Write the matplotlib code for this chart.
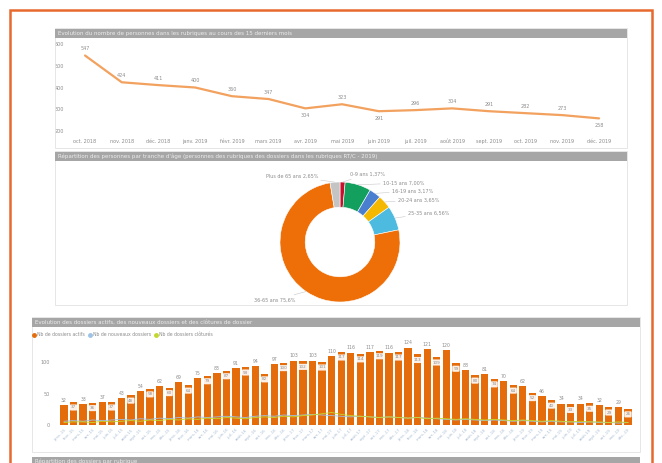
import matplotlib
matplotlib.use("Agg")
import matplotlib.pyplot as plt
from matplotlib.patches import Rectangle
from matplotlib.lines import Line2D
import numpy as np

W, H = 662, 463

# ---------------- data ----------------
line_labels = ["oct. 2018", "nov. 2018", "déc. 2018", "janv. 2019", "févr. 2019",
               "mars 2019", "avr. 2019", "mai 2019", "juin 2019", "juil. 2019",
               "août 2019", "sept. 2019", "oct. 2019", "nov. 2019", "déc. 2019"]
line_values = [547, 424, 411, 400, 360, 347, 304, 323, 291, 296, 304, 291, 282, 273, 258]
line_ticks = [200, 300, 400, 500, 600]

age_labels = ["0-9 ans", "10-15 ans", "16-19 ans", "20-24 ans", "25-35 ans",
              "36-65 ans", "Plus de 65 ans"]
age_values = [1.37, 7.00, 3.17, 3.65, 6.56, 75.60, 2.65]
age_colors = ["#C8102E", "#13A05E", "#4A7FD0", "#F5B800", "#4DBBE0", "#EE6F08", "#C4C4C4"]

mois = ["janv.", "févr.", "mars", "avr.", "mai", "juin", "juil.", "août",
        "sept.", "oct.", "nov.", "déc."]
annees = ["15", "16", "17", "18", "19"]
bar_labels = [f"{m}-{a}" for a in annees for m in mois]
actifs = [32, 37, 33, 36, 37, 37, 43, 48, 54, 58, 62, 60, 69, 64, 75, 79, 83, 87, 91, 93,
          94, 82, 97, 100, 103, 102, 103, 101, 110, 117, 116, 114, 117, 119, 116, 117, 124, 113,
          121, 109, 120, 99, 88, 80, 81, 74, 70, 64, 62, 52, 46, 40, 34, 33, 34, 35, 32, 29,
          29, 26]
nouveaux = [6, 7, 6, 8, 7, 8, 9, 8, 10, 9, 11, 10, 12, 11, 13, 12, 13, 14, 13, 12,
            14, 15, 14, 16, 15, 16, 17, 16, 15, 14, 13, 14, 13, 12, 13, 12, 11, 12, 11, 10,
            9, 8, 9, 8, 7, 8, 7, 6, 7, 6, 5, 6, 5, 5, 4, 5, 4, 4, 3, 4]
clotures = [4, 5, 5, 4, 6, 5, 6, 7, 6, 8, 7, 9, 8, 10, 9, 11, 10, 12, 11, 10,
            12, 13, 12, 14, 13, 15, 16, 18, 20, 17, 15, 14, 13, 12, 13, 12, 11, 12, 10, 11,
            10, 9, 10, 9, 8, 9, 8, 7, 8, 7, 6, 7, 6, 5, 6, 5, 5, 4, 5, 4]
bar_ticks = [0, 50, 100]

# ---------------- helpers ----------------
fig = plt.figure(figsize=(W / 100, H / 100), dpi=100)
fig.patch.set_facecolor("white")


def ax_px(x0, y0, x1, y1):
    return fig.add_axes([x0 / W, 1 - y1 / H, (x1 - x0) / W, (y1 - y0) / H])


def rect_px(x0, y0, x1, y1, **kw):
    fig.add_artist(Rectangle((x0 / W, 1 - y1 / H), (x1 - x0) / W, (y1 - y0) / H,
                             transform=fig.transFigure, **kw))


def text_px(x, y, s, **kw):
    fig.text(x / W, 1 - y / H, s, **kw)


GREY_TXT = "#8C8C8C"
BAR_GREY = "#A6A6A6"

# orange outer frame
rect_px(10, 10, 652, 480, fill=False, edgecolor="#E8692E", lw=1.8)

# ---------------- panel 1 : line ----------------
rect_px(55, 28, 627, 148, fill=False, edgecolor="#E2E2E2", lw=0.6)
rect_px(55, 29, 627, 38, facecolor=BAR_GREY, edgecolor="none")
text_px(58, 33.6, "Evolution du nombre de personnes dans les rubriques au cours des 15 derniers mois",
        color="#EDEDED", fontsize=4, va="center", ha="left")

ax1 = ax_px(70, 44, 620, 131)
x = np.arange(len(line_values))
ax1.plot(x, line_values, color="#F2A15E", lw=1.6, solid_capstyle="round")
ax1.set_ylim(200, 600)
ax1.set_xlim(-0.41, 14.57)
ax1.set_yticks(line_ticks)
ax1.set_yticklabels([str(t) for t in line_ticks])
ax1.set_xticks(x)
ax1.set_xticklabels(line_labels)
ax1.tick_params(length=0, labelsize=3.5, labelcolor=GREY_TXT)
ax1.tick_params(axis="x", pad=6)
ax1.tick_params(axis="y", pad=4)
for s in ax1.spines.values():
    s.set_visible(False)
below = {6, 8, 14}
for i, v in enumerate(line_values):
    dy = -5 if i in below else 5
    ax1.annotate(str(v), (i, v), textcoords="offset points", xytext=(0, dy),
                 ha="center", va="center", fontsize=3.5, color=GREY_TXT)

# ---------------- panel 2 : donut ----------------
rect_px(55, 151, 627, 305, fill=False, edgecolor="#E2E2E2", lw=0.6)
rect_px(55, 152, 627, 161, facecolor=BAR_GREY, edgecolor="none")
text_px(58, 156.6, "Répartition des personnes par tranche d'âge (personnes des rubriques des dossiers "
        "dans les rubriques RT/C - 2019)", color="#EDEDED", fontsize=4, va="center", ha="left")

ax2 = ax_px(280, 182, 400, 302)
wedges, _ = ax2.pie(age_values, colors=age_colors, startangle=90, counterclock=False,
                    radius=1.0, wedgeprops=dict(width=0.42, edgecolor="white", linewidth=0.4))
ax2.set_aspect("equal")
ax2.set_xlim(-1, 1)
ax2.set_ylim(-1, 1)

label_pos = {0: (350, 174, "left"), 1: (383, 183, "left"), 2: (392, 191, "left"),
             3: (398, 200, "left"), 4: (408, 213, "left"), 5: (295, 300, "right"),
             6: (318, 176, "right")}
for i, w in enumerate(wedges):
    ang = np.deg2rad((w.theta1 + w.theta2) / 2)
    px, py = np.cos(ang), np.sin(ang)
    tx, ty, ha = label_pos[i]
    txt = f"{age_labels[i]} {age_values[i]:.2f}%".replace(".", ",")
    if i == 5:
        txt = f"{age_labels[i]} {age_values[i]:.1f}%".replace(".", ",")
    ax2.annotate(txt, (px * 1.0, py * 1.0), xycoords="data",
                 xytext=(tx, H - ty), textcoords="figure pixels",
                 ha=ha, va="center", fontsize=3.5, color=GREY_TXT,
                 arrowprops=dict(arrowstyle="-", color="#C8C8C8", lw=0.4,
                                 shrinkA=0, shrinkB=0))

# ---------------- panel 3 : bars ----------------
rect_px(32, 317, 640, 452, fill=False, edgecolor="#E2E2E2", lw=0.6)
rect_px(32, 318, 640, 327, facecolor=BAR_GREY, edgecolor="none")
text_px(35, 322.6, "Evolution des dossiers actifs, des nouveaux dossiers et des clôtures de dossier",
        color="#EDEDED", fontsize=4, va="center", ha="left")

ax3 = ax_px(55, 345, 636, 425)
xb = np.arange(len(actifs))
ax3.bar(xb, actifs, width=0.76, color="#E46C0A", edgecolor="none", label="Nb de dossiers actifs",
        zorder=2)
ax3.plot(xb, nouveaux, color="#9DC3E6", lw=0.6, label="Nb de nouveaux dossiers", zorder=3)
ax3.plot(xb, clotures, color="#C5D72B", lw=0.6, label="Nb de dossiers clôturés", zorder=3)
ax3.set_xlim(-0.94, 59.84)
ax3.set_ylim(0, 128)
ax3.set_yticks(bar_ticks)
ax3.set_yticklabels([str(t) for t in bar_ticks])
ax3.set_xticks(xb)
ax3.set_xticklabels(bar_labels, rotation=45, ha="right", rotation_mode="anchor")
ax3.tick_params(length=0, labelsize=3.5, labelcolor=GREY_TXT)
ax3.tick_params(axis="x", labelsize=2.8, labelcolor="#A9BCD2", pad=2)
for s in ax3.spines.values():
    s.set_visible(False)
ax3.axhline(0, color="#D9D9D9", lw=0.5, zorder=1)

mid_labels = {30, 32, 34}
for i, v in enumerate(actifs):
    if i % 2 == 0:
        ax3.annotate(str(v), (i, v), textcoords="offset points", xytext=(0, 3.5),
                     ha="center", va="center", fontsize=3.3, color=GREY_TXT)
    else:
        yy = v * 0.5 if i in mid_labels else v - 9
        ax3.text(i, yy, str(v), ha="center", va="center", fontsize=3.0, color=GREY_TXT,
                 bbox=dict(boxstyle="round,pad=0.25", fc="white", ec="none", alpha=0.9),
                 zorder=4)

handles = [Line2D([], [], marker="o", ls="none", color="#E46C0A", markersize=2.5),
           Line2D([], [], marker="o", ls="none", color="#9DC3E6", markersize=2.5),
           Line2D([], [], marker="o", ls="none", color="#C5D72B", markersize=2.5)]
fig.legend(handles, ["Nb de dossiers actifs", "Nb de nouveaux dossiers", "Nb de dossiers clôturés"],
           loc="center left", bbox_to_anchor=(33 / W, 1 - 335 / H), ncol=3, frameon=False,
           fontsize=3.3, handlelength=0.6, handletextpad=0.3, columnspacing=0.8,
           labelcolor=GREY_TXT, borderaxespad=0, borderpad=0)

# next panel title bar (cut off)
rect_px(32, 457, 640, 470, facecolor=BAR_GREY, edgecolor="none")
text_px(35, 461, "Répartition des dossiers par rubrique", color="#EDEDED", fontsize=4,
        va="center", ha="left")

fig.savefig("out.png", dpi=100, facecolor="white")
